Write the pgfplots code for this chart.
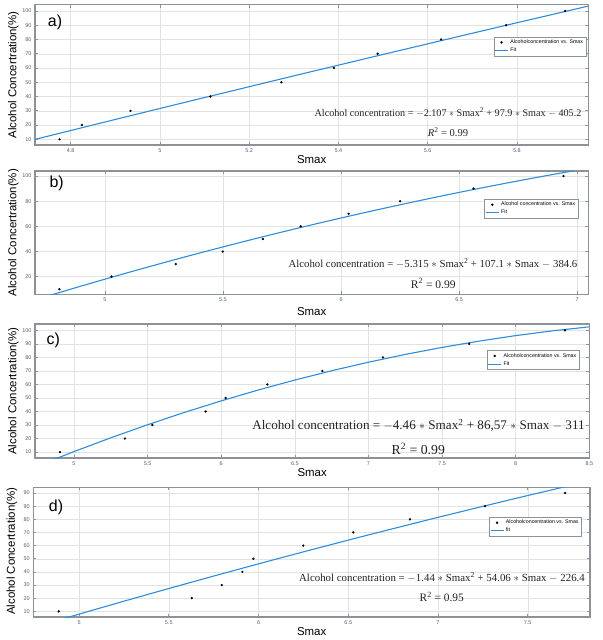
\documentclass[border=0pt]{standalone}
\usepackage{pgfplots}
\pgfplotsset{compat=1.18}
\usepackage{fontspec}
\setmainfont{Liberation Sans}
\newfontfamily\eqfont{Liberation Serif}
\definecolor{fitblue}{RGB}{45,140,220}
\definecolor{axgray}{RGB}{140,146,152}
\definecolor{tickgray}{RGB}{85,95,105}
\definecolor{gridgray}{RGB}{226,226,226}
\definecolor{eqcol}{RGB}{35,35,35}
\pgfplotsset{mat/.style={
  scale only axis, anchor=north west,
  axis line style={axgray, line width=1.1bp},
  tick style={axgray, line width=0.6bp},
  tick align=inside, major tick length=3bp,
  grid=major, grid style={gridgray, line width=0.4bp},
  ticklabel style={font=\fontsize{5.5}{6}\selectfont, text=tickgray},
  /pgf/number format/assume math mode=true,
  xlabel={Smax}, ylabel={Alcohol Concertration(\%)},
  every axis x label/.style={at={(axis description cs:0.5,0)}, yshift=-15bp, anchor=center},
  every axis y label/.style={at={(axis description cs:0,0.5)}, xshift=-21.5bp, rotate=90, anchor=center},
  label style={font=\fontsize{11.5}{12}\selectfont},
  legend style={font=\fontsize{5.3}{5.8}\selectfont, draw=axgray, line width=0.5bp, inner sep=0.8bp, row sep=-1.2bp, legend cell align=left, fill=white},
  clip=true,
},
pts/.style={only marks, mark=*, mark size=0.95bp, black, legend image code/.code={\fill[black] (6.5bp,0bp) circle (0.95bp);}},
fitl/.style={no marks, fitblue, line width=1.1bp, legend image code/.code={\draw[fitblue, line width=0.8bp] (0bp,0bp) -- (13bp,0bp);}},
}
\begin{document}
\begin{tikzpicture}
\path[use as bounding box] (0,0) rectangle (603bp,-640bp);
% ---------- a ----------
\begin{axis}[mat, at={(35bp,-4.7bp)}, width=553.3bp, height=140.3bp,
  xmin=4.72, xmax=5.96, ymin=6, ymax=104.4,
  xtick={4.8,5,5.2,5.4,5.6,5.8}, xticklabels={4.8,5,5.2,5.4,5.6,5.8},
  ytick={10,20,...,100},
  legend style={at={(0.996,0.772)}, anchor=north east}]
\addplot[pts] coordinates {(4.775,10)(4.825,20)(4.934,30)(5.113,40)(5.272,50)(5.39,60)(5.488,70)(5.63,80)(5.776,90)(5.908,100)};
\addlegendentry{Alcoholconcentration vs. Smax}
\addplot[fitl] coordinates {(4.72,9.948)(4.9,23.921)(5.0,31.625)(5.1,39.287)(5.3,54.484)(5.5,69.513)(5.7,84.374)(5.8,91.74)(5.96,103.44)};
\addlegendentry{Fit}
\end{axis}
\node[font=\fontsize{16}{16}\selectfont] at (55bp,-22.7bp) {a)};
\node[font=\eqfont\fontsize{10.2}{11}\selectfont, text=eqcol] at (448bp,-112.3bp) {Alcohol concentration = $-$2.107 $\ast$ Smax\textsuperscript{2} + 97.9 $\ast$ Smax $-$ 405.2};
\node[font=\eqfont\fontsize{10.6}{11}\selectfont, text=eqcol] at (448bp,-131.7bp) {\textit{R}\textsuperscript{2} = 0.99};
% ---------- b ----------
\begin{axis}[mat, at={(35bp,-171bp)}, width=553.3bp, height=123.3bp,
  xmin=4.704, xmax=7.047, ymin=6, ymax=104,
  xtick={5,5.5,6,6.5,7}, xticklabels={5,5.5,6,6.5,7},
  ytick={20,40,...,100}, xlabel style={yshift=-2.4bp},
  legend style={at={(0.982,0.773)}, anchor=north east}]
\addplot[pts] coordinates {(4.807,10)(5.028,20)(5.30,30)(5.499,40)(5.669,50)(5.829,60)(6.032,70)(6.25,80)(6.561,90)(6.942,100)};
\addlegendentry{Alcohol concentration vs. Smax}
\addplot[fitl] coordinates {(4.7,1.36)(4.775,5.617)(4.9,12.577)(5.0,18.025)(5.1,23.367)(5.2,28.602)(5.3,33.732)(5.4,38.755)(5.5,43.671)(5.6,48.482)(5.7,53.186)(5.8,57.783)(5.9,62.275)(6.0,66.66)(6.1,70.939)(6.2,75.111)(6.3,79.178)(6.4,83.138)(6.5,86.991)(6.6,90.739)(6.7,94.38)(6.8,97.914)(6.9,101.343)(7.0,104.665)(7.047,106.19)};
\addlegendentry{Fit}
\end{axis}
\node[font=\fontsize{16}{16}\selectfont] at (56.7bp,-183.3bp) {b)};
\node[font=\eqfont\fontsize{10.8}{11}\selectfont, text=eqcol] at (433bp,-263.3bp) {Alcohol concentration = $-$5.315 $\ast$ Smax\textsuperscript{2} + 107.1 $\ast$ Smax $-$ 384.6};
\node[font=\eqfont\fontsize{11.6}{12}\selectfont, text=eqcol] at (433.3bp,-283.3bp) {R\textsuperscript{2} = 0.99};
% ---------- c ----------
\begin{axis}[mat, at={(35bp,-324bp)}, width=554.3bp, height=134bp,
  xmin=4.735, xmax=8.5, ymin=5.6, ymax=104.7,
  xtick={5,5.5,6,6.5,7,7.5,8,8.5}, xticklabels={5,5.5,6,6.5,7,7.5,8,8.5},
  ytick={10,20,...,100},
  legend style={at={(0.982,0.804)}, anchor=north east}]
\addplot[pts] coordinates {(4.905,10)(5.346,20)(5.532,30)(5.894,40)(6.03,50)(6.313,60)(6.687,70)(7.098,80)(7.684,90)(8.335,100)};
\addlegendentry{Alcoholconcentration vs. Smax}
\addplot[fitl] coordinates {(4.85,3.95)(5.0,10.35)(5.25,20.564)(5.5,30.22)(5.75,39.319)(6.0,47.86)(6.25,55.844)(6.5,63.27)(6.75,70.139)(7.0,76.45)(7.25,82.204)(7.5,87.4)(7.75,92.039)(8.0,96.12)(8.25,99.644)(8.5,102.61)};
\addlegendentry{Fit}
\end{axis}
\node[font=\fontsize{16}{16}\selectfont] at (53.3bp,-340.7bp) {c)};
\node[font=\eqfont\fontsize{13.2}{14}\selectfont, text=eqcol] at (418.5bp,-425.3bp) {Alcohol concentration = $-$4.46 $\ast$ Smax\textsuperscript{2} + 86,57 $\ast$ Smax $-$ 311};
\node[font=\eqfont\fontsize{13.8}{14}\selectfont, text=eqcol] at (418.3bp,-448.7bp) {R\textsuperscript{2} = 0.99};
% ---------- d ----------
\begin{axis}[mat, at={(33.3bp,-487.3bp)}, width=556.7bp, height=129.7bp,
  xmin=4.745, xmax=7.847, ymin=5.7, ymax=104.3,
  xtick={5,5.5,6,6.5,7,7.5}, xticklabels={5,5.5,6,6.5,7,7.5},
  ytick={10,20,...,100}, yticklabels={10,20,30,40,50,60,70,80,90,90},
  every axis y label/.append style={xshift=1bp},
  legend style={at={(0.985,0.771)}, anchor=north east}]
\addplot[pts] coordinates {(4.887,10)(5.628,20)(5.795,30)(5.91,40)(5.971,50)(6.249,60)(6.528,70)(6.844,80)(7.262,90)(7.708,100)};
\addlegendentry{Alcoholconcentration vs. Smax}
\addplot[fitl] coordinates {(4.9,3.92)(5.0,7.9)(5.25,17.725)(5.5,27.37)(5.75,36.835)(6.0,46.12)(6.25,55.225)(6.5,64.15)(6.75,72.895)(7.0,81.46)(7.25,89.845)(7.5,98.05)(7.75,106.075)};
\addlegendentry{fit}
\end{axis}
\node[font=\fontsize{16}{16}\selectfont] at (56bp,-507.3bp) {d)};
\node[font=\eqfont\fontsize{10.9}{11}\selectfont, text=eqcol] at (442bp,-577.3bp) {Alcohol concentration = $-$1.44 $\ast$ Smax\textsuperscript{2} + 54.06 $\ast$ Smax $-$ 226.4};
\node[font=\eqfont\fontsize{11.4}{12}\selectfont, text=eqcol] at (441.7bp,-597.3bp) {R\textsuperscript{2} = 0.95};
\end{tikzpicture}
\end{document}
